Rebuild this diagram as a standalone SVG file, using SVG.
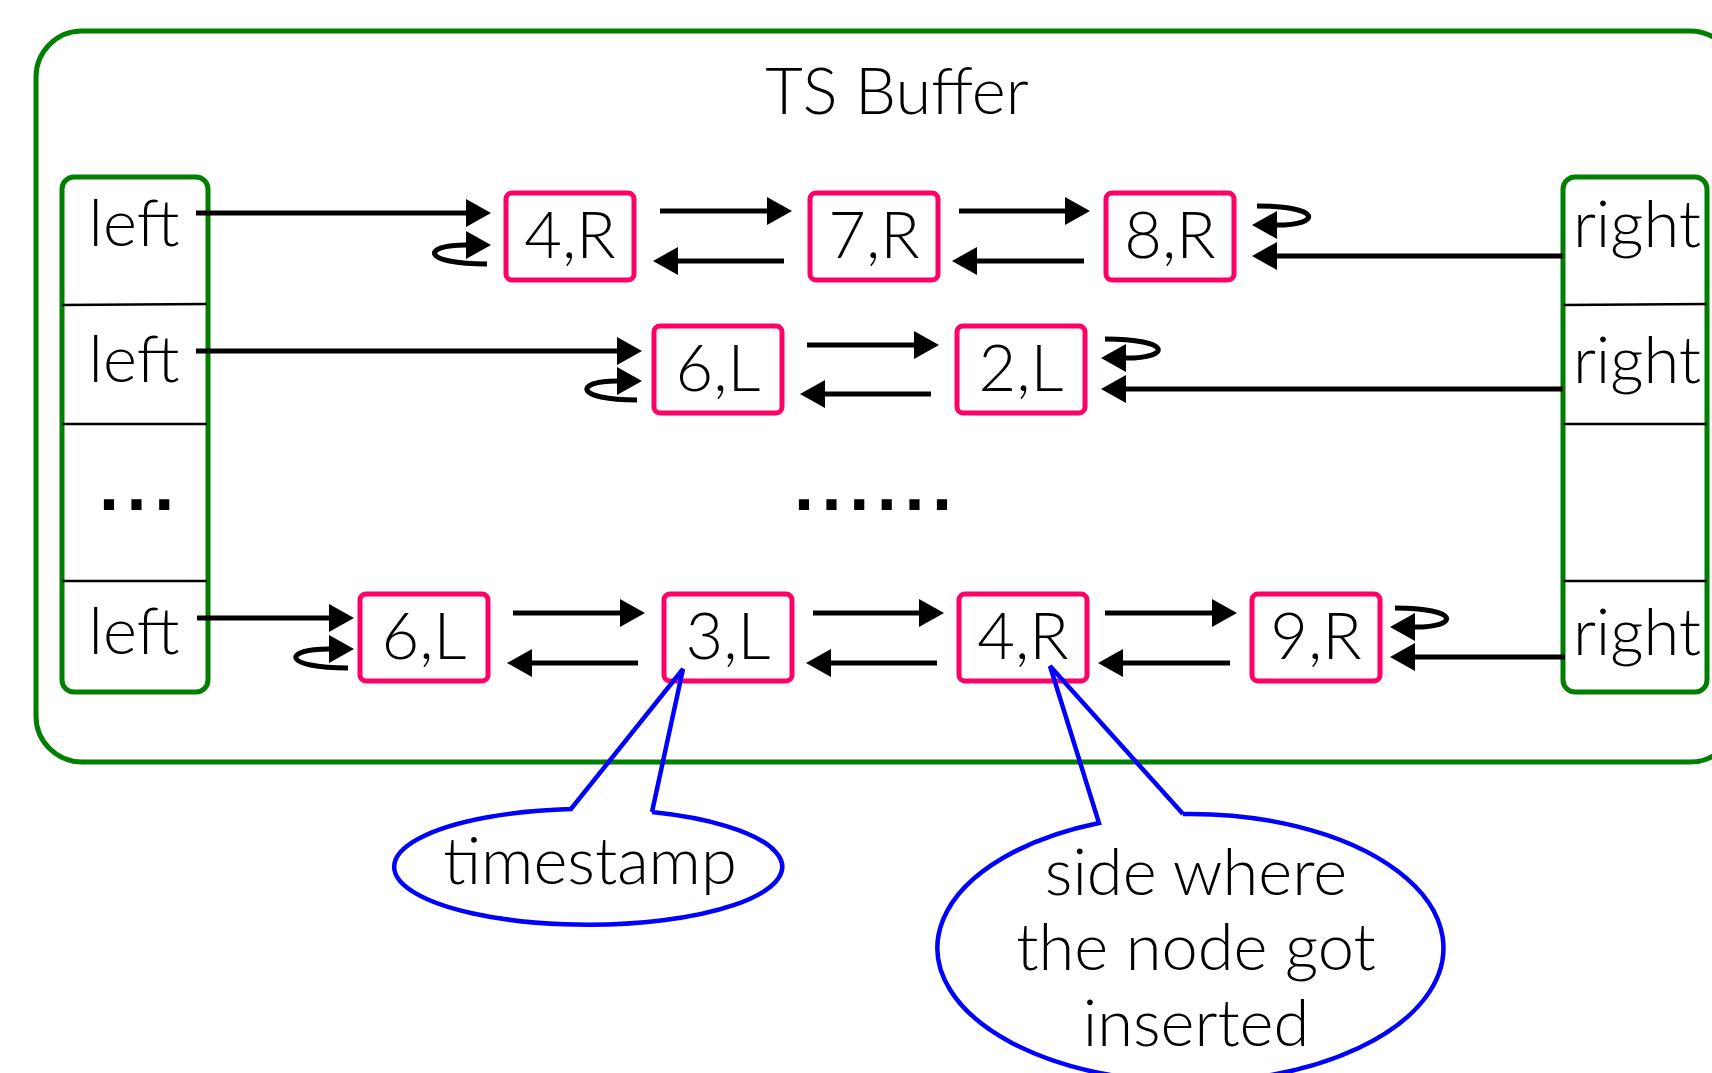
<svg xmlns="http://www.w3.org/2000/svg" width="1712" height="1073" viewBox="0 0 1712 1073">
<defs>
<style>
.t{font-family:Lato,"Open Sans","Liberation Sans",sans-serif;font-weight:300;font-size:65px;fill:#000;text-anchor:middle}
.dots{font-family:"Liberation Sans",sans-serif;font-weight:bold;font-size:72px;fill:#000;letter-spacing:7.6px}
.grp{fill:none;stroke:#007f00;stroke-width:5}
.node rect{fill:#fff;stroke:#ff0066;stroke-width:5}
.div{stroke:#000;stroke-width:2.5}
.c path{fill:none;stroke:#000;stroke-width:5}
.call{fill:none;stroke:#0000ff;stroke-width:4.5;stroke-linejoin:miter}
</style>
<marker id="ah" markerUnits="userSpaceOnUse" markerWidth="27" markerHeight="30" refX="0" refY="14" orient="auto" overflow="visible">
<path d="M0,0 L25,14 L0,28 Z" fill="#000"/>
</marker>
</defs>
<rect width="1712" height="1073" fill="#fff"/>
<g id="ts-buffer">
<rect class="grp" x="36" y="31" width="1700" height="731" rx="46"/>
<text class="t" x="897" y="114">TS Buffer</text>
</g>
<g id="left-column">
<rect class="grp" x="62" y="177" width="146" height="515" rx="12"/>
<line class="div" x1="62" y1="305" x2="207" y2="304"/>
<line class="div" x1="62" y1="424" x2="207" y2="424"/>
<line class="div" x1="62" y1="581" x2="207" y2="581"/>
<text class="t" x="134" y="246">left</text>
<text class="t" x="134" y="382">left</text>
<text class="dots" x="99" y="510">...</text>
<text class="t" x="134" y="654">left</text>
</g>
<g id="right-column">
<rect class="grp" x="1563" y="177" width="144" height="515" rx="12"/>
<line class="div" x1="1563" y1="305" x2="1707" y2="304"/>
<line class="div" x1="1563" y1="424" x2="1707" y2="424"/>
<line class="div" x1="1563" y1="581" x2="1707" y2="581"/>
<text class="t" x="1637" y="247">right</text>
<text class="t" x="1637" y="383">right</text>
<text class="t" x="1637" y="655">right</text>
</g>
<g id="ellipsis-middle">
<text class="dots" x="794" y="510">......</text>
</g>
<g id="n-4R-top" class="node"><rect x="506" y="193" width="128" height="87" rx="6"/><text class="t" x="570" y="258">4,R</text></g>
<g id="n-7R-top" class="node"><rect x="810" y="193" width="128" height="87" rx="6"/><text class="t" x="874" y="258">7,R</text></g>
<g id="n-8R-top" class="node"><rect x="1106" y="193" width="128" height="87" rx="6"/><text class="t" x="1170" y="258">8,R</text></g>
<g id="n-6L-mid" class="node"><rect x="654" y="326" width="128" height="87" rx="6"/><text class="t" x="718" y="391">6,L</text></g>
<g id="n-2L-mid" class="node"><rect x="957" y="326" width="128" height="87" rx="6"/><text class="t" x="1021" y="391">2,L</text></g>
<g id="n-6L-bot" class="node"><rect x="360" y="594" width="128" height="87" rx="6"/><text class="t" x="424" y="659">6,L</text></g>
<g id="n-3L-bot" class="node"><rect x="664" y="594" width="128" height="87" rx="6"/><text class="t" x="728" y="659">3,L</text></g>
<g id="n-4R-bot" class="node"><rect x="959" y="594" width="128" height="87" rx="6"/><text class="t" x="1023" y="659">4,R</text></g>
<g id="n-9R-bot" class="node"><rect x="1252" y="594" width="128" height="87" rx="6"/><text class="t" x="1316" y="659">9,R</text></g>
<g id="connectors" class="c">
<path d="M196 213 H466" marker-end="url(#ah)"/>
<path d="M487 264 C421 264 421 245 466 245" marker-end="url(#ah)"/>
<path d="M660 211 H767" marker-end="url(#ah)"/>
<path d="M784 261 H678" marker-end="url(#ah)"/>
<path d="M959 211 H1065" marker-end="url(#ah)"/>
<path d="M1084 261 H977" marker-end="url(#ah)"/>
<path d="M1257 206 C1322 206 1322 225 1277 225" marker-end="url(#ah)"/>
<path d="M1563 256 H1277" marker-end="url(#ah)"/>
<path d="M196 351 H617" marker-end="url(#ah)"/>
<path d="M637 400 C574 400 574 381 617 381" marker-end="url(#ah)"/>
<path d="M807 345 H914" marker-end="url(#ah)"/>
<path d="M931 394 H825" marker-end="url(#ah)"/>
<path d="M1105 339 C1172 339 1172 358 1126 358" marker-end="url(#ah)"/>
<path d="M1563 389 H1126" marker-end="url(#ah)"/>
<path d="M197 618 H329" marker-end="url(#ah)"/>
<path d="M348 668 C282 668 282 649 329 649" marker-end="url(#ah)"/>
<path d="M513 613 H620" marker-end="url(#ah)"/>
<path d="M638 663 H532" marker-end="url(#ah)"/>
<path d="M813 613 H919" marker-end="url(#ah)"/>
<path d="M937 663 H831" marker-end="url(#ah)"/>
<path d="M1105 613 H1212" marker-end="url(#ah)"/>
<path d="M1230 663 H1123" marker-end="url(#ah)"/>
<path d="M1395 608 C1460 608 1460 627 1415 627" marker-end="url(#ah)"/>
<path d="M1565 657 H1415" marker-end="url(#ah)"/>
</g>
<g id="callout-timestamp">
<path class="call" d="M652 812 L683 669 L571 809 A194 58 0 1 0 652 812"/>
<text class="t" x="590" y="884">timestamp</text>
</g>
<g id="callout-side">
<path class="call" d="M1183 814 L1050 666 L1099 823 A253 134 0 1 0 1183 814"/>
<text class="t" x="1196" y="895">side where</text>
<text class="t" x="1196" y="970">the node got</text>
<text class="t" x="1196" y="1046">inserted</text>
</g>
</svg>
